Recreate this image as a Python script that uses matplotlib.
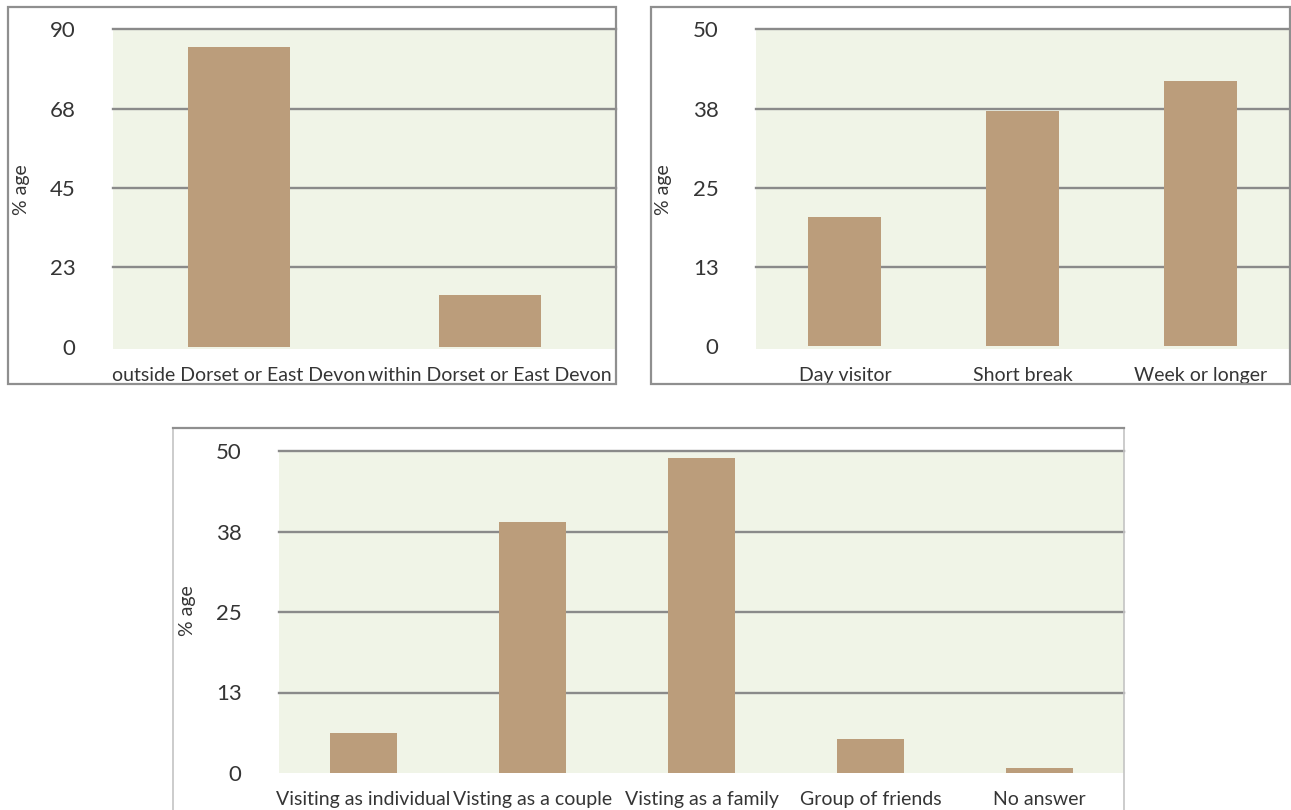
import matplotlib
matplotlib.use("Agg")
from matplotlib import pyplot as plt
from matplotlib.patches import Rectangle
from matplotlib.lines import Line2D

# where visitors come from
origin_labels = ["outside Dorset or East Devon", "within Dorset or East Devon"]
origin_pct = [85.0, 14.5]
origin_ticks = [0, 22.5, 45, 67.5, 90]
origin_ticklabels = ["0", "23", "45", "68", "90"]

# length of stay
stay_labels = ["Day visitor", "Short break", "Week or longer"]
stay_pct = [20.4, 37.1, 41.8]

# party type
party_labels = ["Visiting as individual", "Visting as a couple", "Visting as a family",
                "Group of friends", "No answer"]
party_pct = [6.2, 38.9, 48.9, 5.3, 0.8]

pct50_ticks = [0, 12.5, 25, 37.5, 50]
pct50_ticklabels = ["0", "13", "25", "38", "50"]

W, H = 1291, 810
BAR = "#bb9d7b"
PLOT_BG = "#f0f4e7"
GRID = "#8a8a8a"
TEXT = "#353535"

plt.rcParams["font.family"] = ["Lato", "DejaVu Sans"]

fig = plt.figure(figsize=(W / 100, H / 100), dpi=100)
fig.patch.set_facecolor("white")


def px_axes(left, top, right, bottom):
    return fig.add_axes([left / W, 1 - bottom / H, (right - left) / W, (bottom - top) / H])


def frame(left, top, right, bottom, color, lw=1.6):
    fig.patches.append(Rectangle((left / W, 1 - bottom / H), (right - left) / W,
                                 (bottom - top) / H, transform=fig.transFigure,
                                 fill=False, edgecolor=color, linewidth=lw))


def bar_panel(ax, labels, values, ticks, ticklabels, ymin, width):
    ax.set_facecolor(PLOT_BG)
    # gridlines above zero only, drawn behind the bars
    for t in ticks[1:]:
        ax.axhline(t, color=GRID, linewidth=1.7, zorder=1, clip_on=False)
    ax.bar(range(len(values)), values, width=width, color=BAR, zorder=3)
    ax.set_xlim(-0.5, len(values) - 0.5)
    ax.set_ylim(ymin, ticks[-1])
    ax.set_yticks(ticks)
    ax.set_yticklabels(ticklabels, fontsize=16, color=TEXT)
    ax.set_xticks(range(len(values)))
    ax.set_xticklabels(labels, fontsize=14, color=TEXT)
    ax.tick_params(axis="y", length=0, pad=27)
    ax.tick_params(axis="x", length=0, pad=13)
    for s in ax.spines.values():
        s.set_visible(False)


# outer frames
frame(8, 7, 616, 384, "#8f8f8f")
frame(651, 7, 1290, 384, "#8f8f8f")
frame(173, 428, 1124, 815, "#c4c4c4", lw=1.2)
fig.lines.append(Line2D([173 / W, 1124 / W], [1 - 428 / H, 1 - 428 / H],
                        transform=fig.transFigure, color="#8f8f8f", linewidth=1.6))

ax1 = px_axes(113, 29.3, 616, 349)
bar_panel(ax1, origin_labels, origin_pct, origin_ticks, origin_ticklabels, -0.7, 0.405)

ax2 = px_axes(756, 29.3, 1289, 349)
bar_panel(ax2, stay_labels, stay_pct, pct50_ticks, pct50_ticklabels, -0.45, 0.41)

ax3 = px_axes(279, 451, 1124, 773)
bar_panel(ax3, party_labels, party_pct, pct50_ticks, pct50_ticklabels, 0, 0.40)

# rotated y labels
for x, y in [(22, 190), (664, 190), (187, 611)]:
    fig.text(x / W, 1 - y / H, "% age", rotation=90, ha="center", va="center",
             fontsize=14, color=TEXT)

fig.savefig("out.png", dpi=100)
plt.close(fig)
